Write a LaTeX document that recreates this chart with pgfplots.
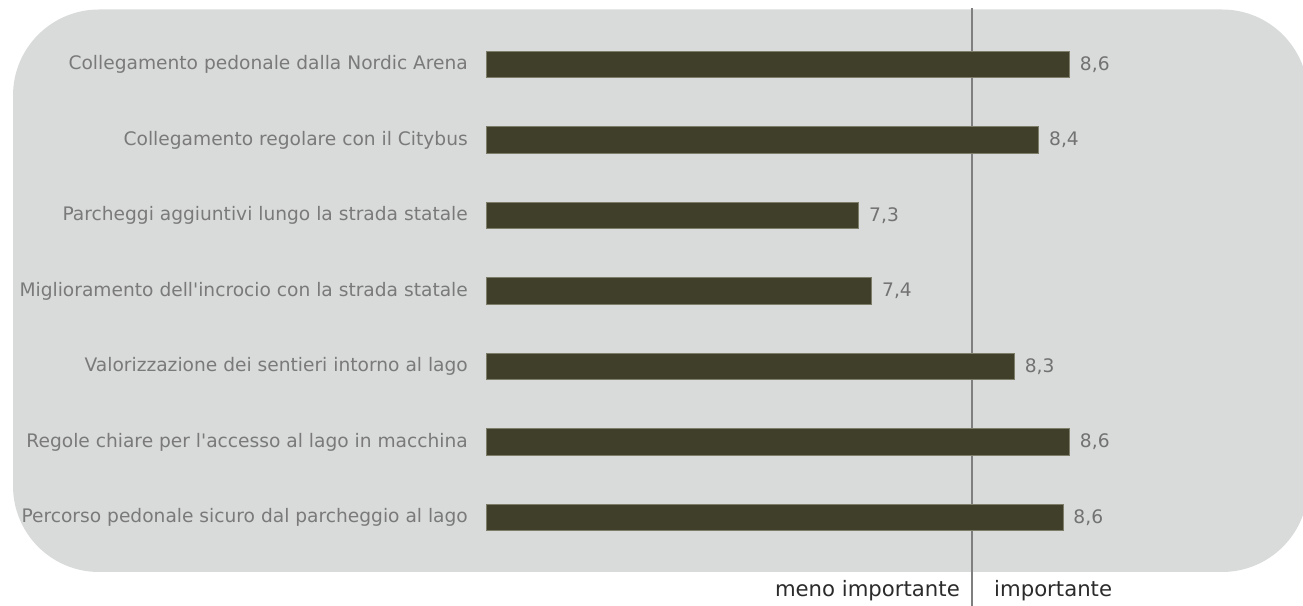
\documentclass[border=0pt]{standalone}
\usepackage{pgfplots}
\usepackage{pgfplotstable}
\pgfplotsset{compat=1.18}
\usepackage{fontspec}
\setmainfont{DejaVu Sans}[Ligatures=TeXOff]
\definecolor{panel}{HTML}{D9DADA}
\definecolor{barc}{HTML}{403F29}
\definecolor{barb}{HTML}{7E7D6A}
\definecolor{labg}{HTML}{7A7A7A}
\definecolor{valg}{HTML}{727272}
\definecolor{linec}{HTML}{7F7F7F}
\definecolor{btxt}{HTML}{2B2B2B}
\pgfplotstableread{
i v lab
0 8.60 8,6
1 8.41 8,4
2 7.30 7,3
3 7.38 7,4
4 8.26 8,3
5 8.60 8,6
6 8.56 8,6
}\data
\begin{document}
\begin{tikzpicture}[x=1bp,y=1bp]
\useasboundingbox (0,0) rectangle (1303,606);
\fill[panel, rounded corners=86bp] (13,34) rectangle (1308,596.5);
\begin{axis}[at={(486bp,50.75bp)}, anchor=south west, scale only axis,
  width=810.5bp, height=528.5bp,
  xmin=5, xmax=10, ymin=-0.5, ymax=6.5, y dir=reverse,
  clip mode=individual,
  xbar, bar width=26.5bp, bar shift=0pt,
  axis line style={draw=none}, major tick length=0pt,
  xtick=\empty, ytick={0,...,6},
  yticklabels={Collegamento pedonale dalla Nordic Arena,
    Collegamento regolare con il Citybus,
    Parcheggi aggiuntivi lungo la strada statale,
    Miglioramento dell'incrocio con la strada statale,
    Valorizzazione dei sentieri intorno al lago,
    Regole chiare per l'accesso al lago in macchina,
    Percorso pedonale sicuro dal parcheggio al lago},
  yticklabel style={font=\fontsize{18.7}{22}\selectfont, text=labg, inner sep=0pt, xshift=-18bp},
  nodes near coords, point meta=explicit symbolic,
  nodes near coords style={font=\fontsize{18.7}{22}\selectfont, text=valg, anchor=west, inner sep=0pt, xshift=10bp},
]
\draw[linec, line width=1.8bp] (axis cs:8,-0.75) -- (axis cs:8,7.2);
\addplot[fill=barc, draw=barb, line width=0.8bp] table[x=v, y=i, meta=lab] {\data};
\end{axis}
\node[anchor=base east, inner sep=0pt, text=btxt, font=\fontsize{21.3}{24}\selectfont] at (960,9) {meno importante};
\node[anchor=base west, inner sep=0pt, text=btxt, font=\fontsize{21.3}{24}\selectfont] at (994,9) {importante};
\end{tikzpicture}
\end{document}
